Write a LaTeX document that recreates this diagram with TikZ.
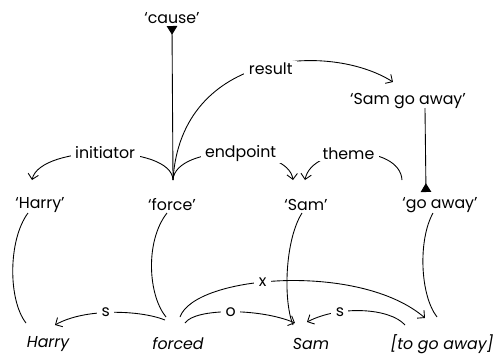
\documentclass[tikz,border=0pt]{standalone}
\usepackage{fontspec}
\setmainfont{Poppins}
\usetikzlibrary{arrows.meta,calc}

\begin{document}
\begin{tikzpicture}[x=0.02cm,y=-0.02cm,
  word/.style={inner sep=1pt,font=\fontsize{9}{10}\selectfont},
  form/.style={inner sep=1pt,font=\fontsize{9}{10}\selectfont\itshape},
  lbl/.style={fill=white,inner xsep=2.5pt,inner ysep=1pt,font=\fontsize{9}{10}\selectfont},
  link/.style={line width=0.5pt},
  dep/.style={link,-{Straight Barb[length=3pt,width=6pt]}},
  isa/.style={link,-{Triangle[reversed,length=5pt,width=6pt]}}]
\useasboundingbox (0,0) rectangle (495,356);
% concepts
\node[word] (cause) at (172,18) {`cause'};
\node[word] (samgo) at (408,101) {`Sam go away'};
\node[word] (harryq) at (40,205) {`Harry'};
\node[word] (forceq) at (172,205) {`force'};
\node[word] (samq) at (306,205) {`Sam'};
\node[word] (goq) at (440,205) {`go away'};
% words
\node[form] (harry) at (48,344) {Harry};
\node[form] (forced) at (178,344) {forced};
\node[form] (sam) at (311,344) {Sam};
\node[form] (togo) at (442,344) {[to go away]};
% isa links
\draw[isa] ($(forceq)+(1,-25)$) -- ($(cause)+(0,8)$);
\draw[isa] ($(samgo)+(17,7)$) -- ($(goq)+(-14,-13)$);
% semantic links
\draw[dep] ($(forceq)+(1,-25)$) .. controls +(8,-130) and +(-63,-40) .. node[lbl,pos=0.53,yshift=-2pt] {result} ($(samgo)+(-15,-19)$);
\draw[dep] ($(forceq)+(1,-25)$) .. controls +(-1,-36) and +(8,-36) .. node[lbl,pos=0.5] {initiator} ($(harryq)+(-8,-25)$);
\draw[dep] ($(forceq)+(1,-25)$) .. controls +(2,-36) and +(-5,-36) .. node[lbl,pos=0.55] {endpoint} ($(samq)+(-13,-25)$);
\draw[dep] ($(goq)+(-38,-25)$) .. controls +(-2,-36) and +(7,-36) .. node[lbl,pos=0.55] {theme} ($(samq)+(-1,-25)$);
% word to concept
\draw[link] ($(harryq)+(-12,8)$) .. controls +(-20,27) and +(-18,-23) .. ($(harry)+(-22,-21)$);
\draw[link] ($(forceq)+(-5,8)$) .. controls +(-22,28) and +(-18,-22) .. ($(forced)+(-12,-27)$);
\draw[link] ($(samq)+(-4,8)$) .. controls +(-17,27) and +(-10,-25) .. ($(sam)+(-18,-19)$);
\draw[link] ($(goq)+(-7,8)$) .. controls +(-15,27) and +(-17,-22) .. ($(togo)+(-5,-27)$);
% syntactic links
\draw[dep] ($(forced)+(-13,-24)$) .. controls +(-25,-10) and +(30,-17) .. node[lbl,pos=0.55] {s} ($(harry)+(7,-19)$);
\draw[dep] ($(forced)+(7,-21)$) .. controls +(10,-15) and +(-35,-15) .. node[lbl,pos=0.5] {o} ($(sam)+(-16,-21)$);
\draw[dep] ($(togo)+(-37,-19)$) .. controls +(-15,-17) and +(33,-17) .. node[lbl,pos=0.7] {s} ($(sam)+(-4,-22)$);
\draw[dep] ($(forced)+(2,-27)$) .. controls +(15,-42) and +(-65,-56) .. node[lbl,pos=0.43] {x} ($(togo)+(-17,-26)$);
\end{tikzpicture}
\end{document}
